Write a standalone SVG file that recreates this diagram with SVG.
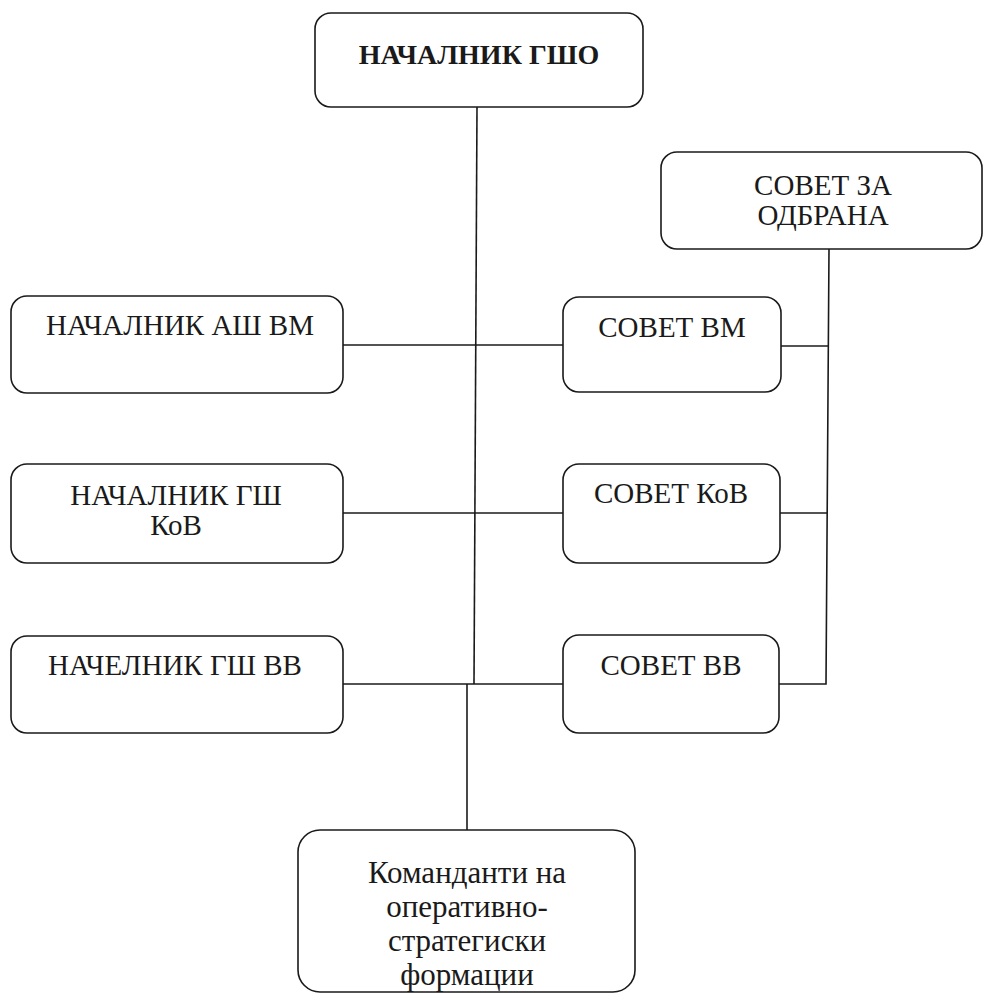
<svg xmlns="http://www.w3.org/2000/svg" width="983" height="995" viewBox="0 0 983 995">
<style>
.box{fill:#fff;stroke:#1a1a1a;stroke-width:1.6}
.t{font-family:"Liberation Serif","Times New Roman",serif;font-size:29px;fill:#1a1a1a;text-anchor:middle}
.b{font-weight:bold;font-size:28px}
.k{font-size:31px}
.c{stroke:#1a1a1a;stroke-width:1.6;fill:none}
</style>
<rect width="983" height="995" fill="#fff"/>
<g id="connectors">
<path class="c" d="M477,107 L474,684"/>
<path class="c" d="M343,345 L563,345"/>
<path class="c" d="M343,513 L563,513"/>
<path class="c" d="M343,684 L563,684"/>
<path class="c" d="M467,684 L467,830"/>
<path class="c" d="M829,249 L826,684 L779,684"/>
<path class="c" d="M781,346 L828,346"/>
<path class="c" d="M780,513 L827,513"/>
</g>
<g id="nachalnik-gsho">
<rect class="box" x="315" y="13" width="328" height="94" rx="16"/>
<text class="t b" x="479" y="64">НАЧАЛНИК ГШО</text>
</g>
<g id="sovet-za-odbrana">
<rect class="box" x="661" y="152" width="321" height="97" rx="16"/>
<text class="t" x="823" y="195">СОВЕТ ЗА</text>
<text class="t" x="823" y="225">ОДБРАНА</text>
</g>
<g id="nachalnik-ash-vm">
<rect class="box" x="11" y="296" width="332" height="97" rx="16"/>
<text class="t" x="180" y="335">НАЧАЛНИК АШ ВМ</text>
</g>
<g id="sovet-vm">
<rect class="box" x="563" y="297" width="218" height="95" rx="16"/>
<text class="t" x="672" y="337">СОВЕТ ВМ</text>
</g>
<g id="nachalnik-gsh-kov">
<rect class="box" x="11" y="464" width="332" height="99" rx="16"/>
<text class="t" x="176" y="505">НАЧАЛНИК ГШ</text>
<text class="t" x="176" y="535">КоВ</text>
</g>
<g id="sovet-kov">
<rect class="box" x="563" y="464" width="217" height="99" rx="16"/>
<text class="t" x="671" y="503">СОВЕТ КоВ</text>
</g>
<g id="nachelnik-gsh-vv">
<rect class="box" x="11" y="636" width="332" height="97" rx="16"/>
<text class="t" x="175" y="675">НАЧЕЛНИК ГШ ВВ</text>
</g>
<g id="sovet-vv">
<rect class="box" x="563" y="635" width="216" height="98" rx="16"/>
<text class="t" x="671" y="675">СОВЕТ ВВ</text>
</g>
<g id="komandanti">
<rect class="box" x="298" y="830" width="337" height="162" rx="22"/>
<text class="t k" x="467" y="883">Команданти на</text>
<text class="t k" x="467" y="917">оперативно-</text>
<text class="t k" x="467" y="951">стратегиски</text>
<text class="t k" x="467" y="985">формации</text>
</g>
</svg>
